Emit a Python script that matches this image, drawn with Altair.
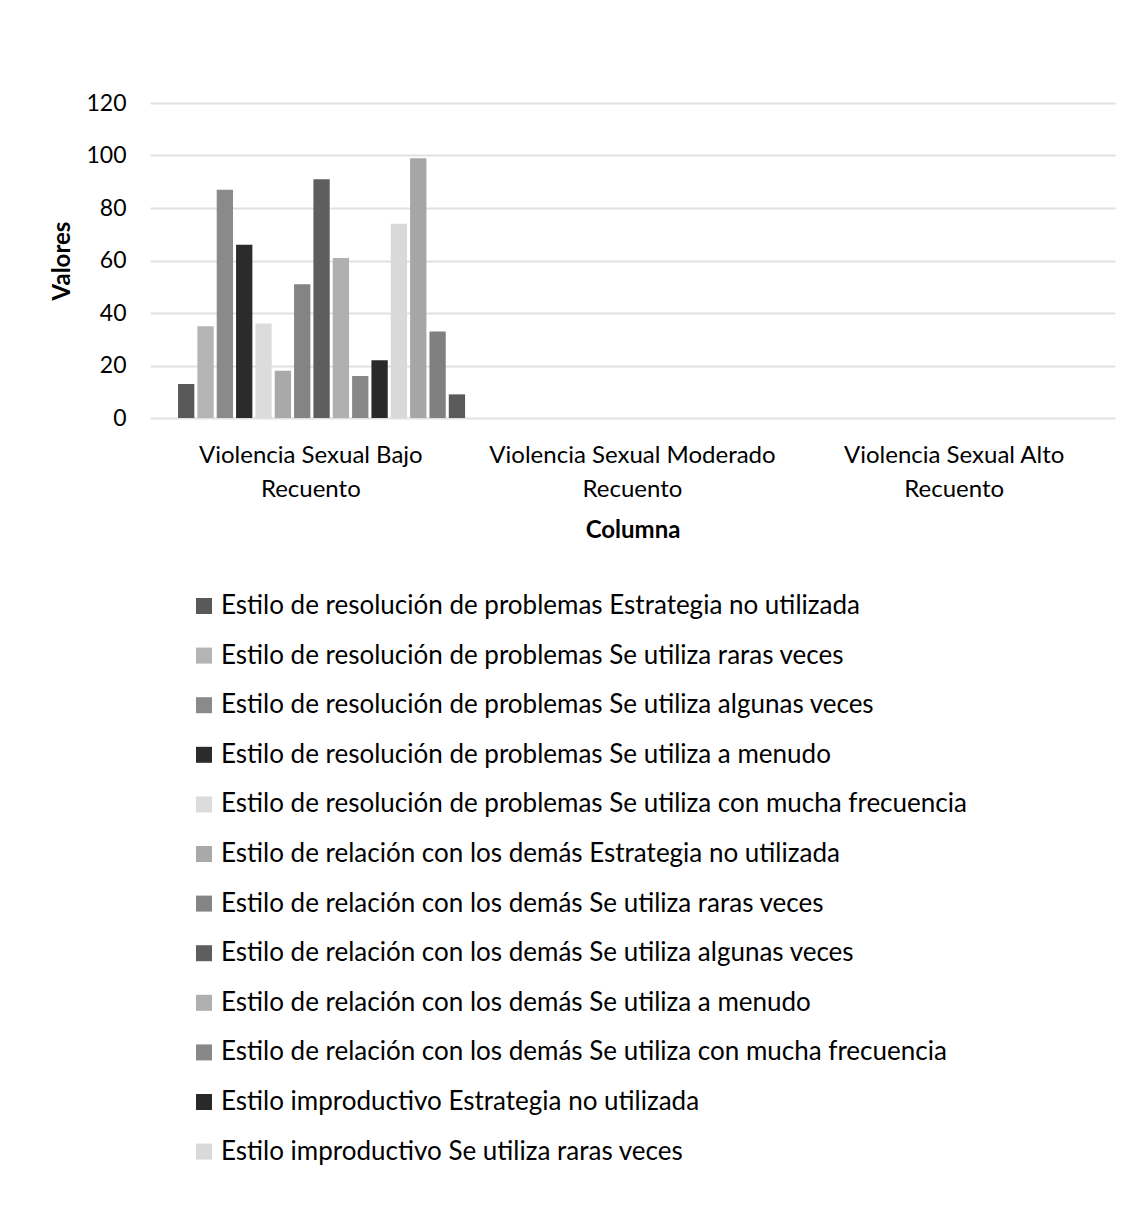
import altair as alt
import pandas as pd

categories = [
    "Violencia Sexual Bajo Recuento",
    "Violencia Sexual Moderado Recuento",
    "Violencia Sexual Alto Recuento",
]

series = [
    "Estilo de resolución de problemas Estrategia no utilizada",
    "Estilo de resolución de problemas Se utiliza raras veces",
    "Estilo de resolución de problemas Se utiliza algunas veces",
    "Estilo de resolución de problemas Se utiliza a menudo",
    "Estilo de resolución de problemas Se utiliza con mucha frecuencia",
    "Estilo de relación con los demás Estrategia no utilizada",
    "Estilo de relación con los demás Se utiliza raras veces",
    "Estilo de relación con los demás Se utiliza algunas veces",
    "Estilo de relación con los demás Se utiliza a menudo",
    "Estilo de relación con los demás Se utiliza con mucha frecuencia",
    "Estilo improductivo Estrategia no utilizada",
    "Estilo improductivo Se utiliza raras veces",
    "Estilo improductivo Se utiliza algunas veces",
    "Estilo improductivo Se utiliza a menudo",
    "Estilo improductivo Se utiliza con mucha frecuencia",
]

# values for "Violencia Sexual Bajo Recuento" (other categories empty)
bajo_values = [13, 35, 87, 66, 36, 18, 51, 91, 61, 16, 22, 74, 99, 33, 9]

colors = [
    "#595959", "#b4b4b4", "#8a8a8a", "#2b2b2b", "#dcdcdc",
    "#a9a9a9", "#848484", "#5e5e5e", "#b0b0b0", "#878787",
    "#292929", "#d9d9d9", "#a6a6a6", "#808080", "#5a5a5a",
]

legend_shown = series[:12]

df = pd.DataFrame({
    "Columna": [categories[0]] * len(series),
    "Serie": series,
    "Valores": bajo_values,
})

FONT = "Lato"

chart = alt.Chart(df).mark_bar().encode(
    x=alt.X(
        "Columna:N",
        scale=alt.Scale(domain=categories, paddingInner=0, paddingOuter=0),
        sort=categories,
        axis=alt.Axis(
            title="Columna",
            labelAngle=0,
            labelExpr="[replace(datum.label, ' Recuento', ''), 'Recuento']",
            labelLineHeight=34,
            labelPadding=25,
            labelLimit=0,
            ticks=False,
            tickSize=0,
            domain=False,
            titlePadding=17,
        ),
    ),
    xOffset=alt.XOffset(
        "Serie:N",
        sort=series,
        scale=alt.Scale(domain=series, paddingInner=0.157, paddingOuter=0.895, align=0.81),
    ),
    y=alt.Y(
        "Valores:Q",
        scale=alt.Scale(domain=[0, 120]),
        axis=alt.Axis(
            title="Valores",
            values=[0, 20, 40, 60, 80, 100, 120],
            ticks=False,
            tickSize=0,
            domain=False,
            labelPadding=24,
            labelFontSize=23,
            titlePadding=11,
        ),
    ),
    color=alt.Color(
        "Serie:N",
        sort=series,
        scale=alt.Scale(domain=series, range=colors),
        legend=alt.Legend(
            title=None,
            values=legend_shown,
            orient="none",
            legendX=41,
            legendY=490,
            direction="vertical",
            columns=1,
            symbolType="square",
            symbolSize=256,
            symbolStrokeWidth=0,
            labelFontSize=26,
            labelFont=FONT,
            labelColor="#000000",
            labelOffset=4,
            rowPadding=23.6,
            labelLimit=0,
        ),
    ),
).properties(
    width=965,
    height=315,
    background="white",
    padding={"left": 42, "top": 84, "right": 16, "bottom": 10},
).configure_view(
    stroke=None,
).configure_axis(
    labelFont=FONT,
    titleFont=FONT,
    labelFontSize=24,
    titleFontSize=24,
    titleFontWeight="bold",
    labelColor="#000000",
    titleColor="#000000",
    gridColor="#dde1e6",
    gridWidth=2,
)

chart.save("out.html", embed_options={"renderer": "svg", "actions": False})
